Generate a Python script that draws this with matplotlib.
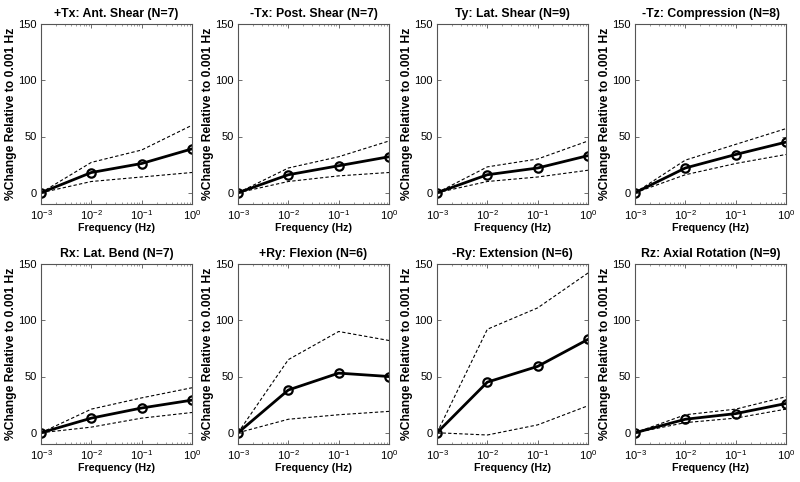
import matplotlib
matplotlib.use("Agg")
import matplotlib.pyplot as plt
from matplotlib.ticker import LogLocator, NullFormatter

plt.rcParams['font.family'] = ['Liberation Sans', 'DejaVu Sans']
plt.rcParams['mathtext.fontset'] = 'custom'
plt.rcParams['mathtext.rm'] = 'Liberation Sans'
plt.rcParams['mathtext.it'] = 'Liberation Sans'

freq = [1e-3, 1e-2, 1e-1, 1e0]
titles = ["+Tx: Ant. Shear (N=7)", "-Tx: Post. Shear (N=7)", "Ty: Lat. Shear (N=9)",
          "-Tz: Compression (N=8)", "Rx: Lat. Bend (N=7)", "+Ry: Flexion (N=6)",
          "-Ry: Extension (N=6)", "Rz: Axial Rotation (N=9)"]
mean_tx_pos = [0, 18, 26, 39]
upper_tx_pos = [0, 27, 38, 60]
lower_tx_pos = [0, 10, 14, 18]
mean_tx_neg = [0, 16, 24, 32]
upper_tx_neg = [0, 22, 32, 46]
lower_tx_neg = [0, 10, 15, 18]
mean_ty = [0, 16, 22, 33]
upper_ty = [0, 23, 30, 46]
lower_ty = [0, 10, 14, 20]
mean_tz = [0, 22, 34, 45]
upper_tz = [0, 29, 43, 57]
lower_tz = [0, 16, 26, 34]
mean_rx = [0, 13, 22, 29]
upper_rx = [0, 21, 31, 40]
lower_rx = [0, 5, 13, 18]
mean_ry_pos = [0, 38, 53, 50]
upper_ry_pos = [0, 65, 90, 82]
lower_ry_pos = [0, 12, 16, 19]
mean_ry_neg = [0, 45, 59, 83]
upper_ry_neg = [0, 92, 111, 142]
lower_ry_neg = [0, -2, 7, 24]
mean_rz = [0, 12, 17, 26]
upper_rz = [0, 16, 21, 32]
lower_rz = [0, 9, 13, 21]

means = [mean_tx_pos, mean_tx_neg, mean_ty, mean_tz, mean_rx, mean_ry_pos, mean_ry_neg, mean_rz]
uppers = [upper_tx_pos, upper_tx_neg, upper_ty, upper_tz, upper_rx, upper_ry_pos, upper_ry_neg, upper_rz]
lowers = [lower_tx_pos, lower_tx_neg, lower_ty, lower_tz, lower_rx, lower_ry_pos, lower_ry_neg, lower_rz]
yticks = [0, 50, 100, 150]
xtick_labels = [r'$10^{-3}$', r'$10^{-2}$', r'$10^{-1}$', r'$10^{0}$']

W, H = 800, 482
fig = plt.figure(figsize=(8, 4.82), dpi=100)
lefts = [41, 238, 437, 635]
tops = [24, 264]
aw, ah = 151, 180

for i in range(8):
    r, c = divmod(i, 4)
    ax = fig.add_axes([lefts[c] / W, (H - tops[r] - ah) / H, aw / W, ah / H])
    ax.plot(freq, uppers[i], '--', color='black', lw=0.8, dashes=(3, 2))
    ax.plot(freq, lowers[i], '--', color='black', lw=0.8, dashes=(3, 2))
    ax.plot(freq, means[i], '-o', color='black', lw=2, ms=6, mfc='none', mew=1.6)
    ax.set_xscale('log')
    ax.set_xlim(1e-3, 1)
    ax.set_ylim(-10, 150)
    ax.set_xticks(freq)
    ax.set_xticklabels(xtick_labels)
    ax.xaxis.set_minor_locator(LogLocator(base=10, subs=range(2, 10)))
    ax.xaxis.set_minor_formatter(NullFormatter())
    ax.set_yticks(yticks)
    ax.tick_params(which='major', direction='in', top=True, right=True, labelsize=8, length=3,
                   width=0.6, color='#555555', pad=3)
    ax.tick_params(which='minor', direction='in', top=True, right=True, length=1.5,
                   width=0.5, color='#777777')
    for s in ax.spines.values():
        s.set_color('#555555')
        s.set_linewidth(0.8)
    ax.set_title(titles[i], fontsize=8.8, fontweight='bold', pad=5)
    ax.set_xlabel('Frequency (Hz)', fontsize=7.7, fontweight='bold', labelpad=1)
    ax.set_ylabel('%Change Relative to 0.001 Hz', fontsize=8.7, fontweight='bold', labelpad=1)

fig.savefig('out.png', dpi=100)
